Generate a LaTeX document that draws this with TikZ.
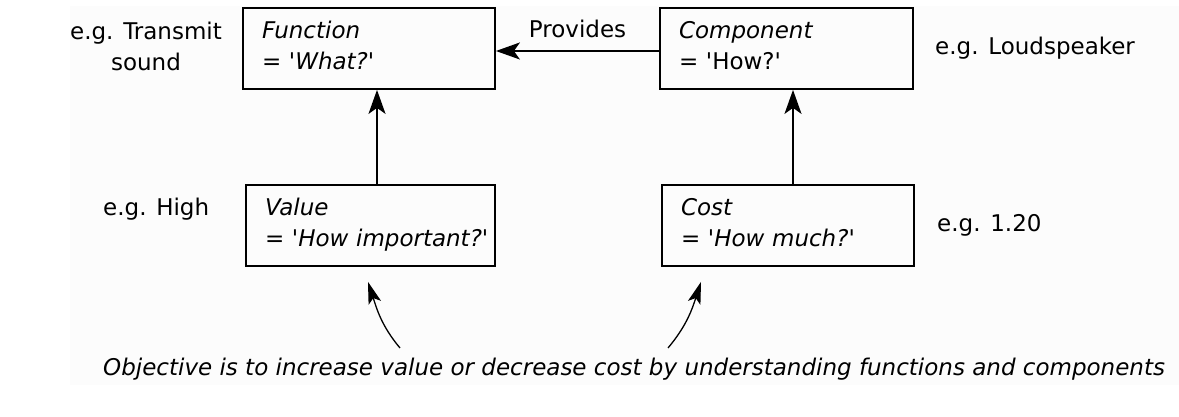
\documentclass[tikz,border=0pt]{standalone}
\usepackage{fontspec}
\setmainfont{DejaVu Sans}
\usetikzlibrary{arrows.meta,calc}
\definecolor{bgc}{RGB}{252,252,252}
\newcommand{\qs}{\textquotesingle}
\begin{document}
\begin{tikzpicture}[x=1pt,y=1pt,
  txt/.style={font=\fontsize{23}{31}\selectfont},
  box/.style={txt, draw, line width=1.8pt, inner xsep=19pt, inner ysep=0pt, align=left, minimum height=81pt},
  lbl/.style={txt, inner sep=0pt},
  arr/.style={line width=1.8pt, -{Stealth[length=24pt,width=17pt,inset=6pt]}},
  carr/.style={line width=1.3pt, -{Stealth[length=22pt,width=13pt,inset=5pt]}}
]
\useasboundingbox (0,0) rectangle (1179,417);
\fill[bgc] (70,32) rectangle (1179,411);

\node[box, text width=214pt] (function) at (369,368.5)
  {\rule{0pt}{18pt}\mbox{\textit{Function}}\\\mbox{= \textit{\qs What?\qs}}\rule[-6pt]{0pt}{6pt}};
\node[box, text width=215pt] (component) at (786.5,368.5)
  {\rule{0pt}{18pt}\mbox{\textit{Component}}\\\mbox{= \qs How?\qs}\rule[-6pt]{0pt}{6pt}};
\node[box, text width=211pt] (value) at (370.5,191.5)
  {\rule{0pt}{18pt}\mbox{\textit{Value}}\\\mbox{= \textit{\qs How important?\qs}}\rule[-6pt]{0pt}{6pt}};
\node[box, text width=214pt] (cost) at (788,191.5)
  {\rule{0pt}{18pt}\mbox{\textit{Cost}}\\\mbox{= \textit{\qs How much?\qs}}\rule[-6pt]{0pt}{6pt}};

\node[lbl, align=center] (transmit) at (146,371) {e.g. Transmit\\sound};
\node[lbl, anchor=base west] (loud) at (935,362) {e.g. Loudspeaker};
\node[lbl, anchor=base west] (high) at (103,201) {e.g. High};
\node[lbl, anchor=base west] (price) at (937,185) {e.g. 1.20};
\node[lbl, anchor=base west, font=\fontsize{23}{31}\selectfont\itshape] (objective) at (103,41)
  {Objective is to increase value or decrease cost by understanding functions and components};

\draw[arr] ([yshift=-2.5pt]component.west) -- node[lbl, above=12pt] (provides) {Provides} ([yshift=-2.5pt]function.east);
\draw[arr] ([xshift=6.5pt]value.north) -- ([xshift=8pt]function.south);
\draw[arr] ([xshift=5pt]cost.north) -- ([xshift=6.5pt]component.south);

\coordinate (t1) at (400,69);
\coordinate (t2) at (668,69);
\draw[carr] (t1) to[out=130,in=-72] ([shift={(-2.5pt,-15pt)}]value.south);
\draw[carr] (t2) to[out=50,in=-108] ([shift={(-87pt,-15pt)}]cost.south);
\end{tikzpicture}
\end{document}
